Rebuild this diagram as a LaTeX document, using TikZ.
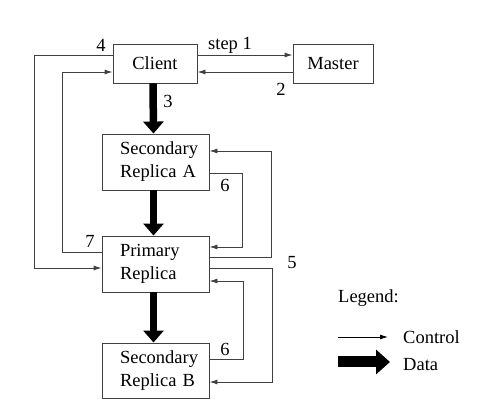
\documentclass[tikz,border=0pt]{standalone}
\usepackage{fontspec}
\setmainfont{Liberation Serif}
\usetikzlibrary{arrows.meta}
\begin{document}
\begin{tikzpicture}[x=1pt,y=-1pt,
  font=\fontsize{18.5}{23}\selectfont,
  box/.style={draw=black!75, line width=0.9pt, inner sep=0pt, align=center},
  rbox/.style={draw=black!75, line width=0.9pt, inner sep=0pt, text width=71pt, align=left, minimum width=107pt},
  ctrl/.style={draw=black!75, line width=0.9pt, -{Latex[length=8pt,width=5pt]}},
  data/.style={draw=black, line width=7.5pt, -{Triangle[length=12pt,width=20pt]}},
  lbl/.style={inner sep=0pt}]
\useasboundingbox (0,0) rectangle (477,411);
% boxes
\node[box, minimum width=84pt, minimum height=39pt] (client) at (155,63.5) {Client};
\node[box, minimum width=80pt, minimum height=39pt] (master) at (333,63.5) {Master};
\node[rbox, minimum height=56pt] (secA) at (155.5,162) {\hbox{Secondary}\\\hbox{Replica A}};
\node[rbox, minimum height=56pt] (prim) at (155.5,264) {Primary\\Replica};
\node[rbox, minimum height=55pt] (secB) at (155.5,370.5) {\hbox{Secondary}\\\hbox{Replica B}};
% client-master
\draw[ctrl] ([yshift=8.5pt]client.east) -- ([yshift=8.5pt]master.west);
\draw[ctrl] ([yshift=-8.5pt]master.west) -- ([yshift=-8.5pt]client.east);
% left side
\draw[ctrl] ([yshift=8.5pt]client.west) -- ++(-78,0) |- ([yshift=-4pt]prim.west);
\draw[ctrl] ([yshift=12pt]prim.west) -- ++(-39,0) |- ([yshift=-8.5pt]client.west);
% right side
\draw[ctrl] ([yshift=7pt]prim.east) -- ++(62,0) |- ([yshift=11pt]secA.east);
\draw[ctrl] ([yshift=-11pt]secA.east) -- ++(33,0) |- ([yshift=17pt]prim.east);
\draw[ctrl] ([yshift=-4pt]prim.east) -- ++(63,0) |- ([yshift=-11.5pt]secB.east);
\draw[ctrl] ([yshift=11.5pt]secB.east) -- ++(34,0) |- ([yshift=-17pt]prim.east);
% data
\draw[data] ([xshift=-2pt]client.south) -- ([xshift=-2pt]secA.north);
\draw[data] ([xshift=-2pt]secA.south) -- ([xshift=-2pt]prim.north);
\draw[data] ([xshift=-2pt]prim.south) -- ([xshift=-2pt]secB.north);
% labels
\node[lbl] (l1) at (230,45) {step 1};
\node[lbl] (l2) at (281,89) {2};
\node[lbl] (l3) at (168,101) {3};
\node[lbl] (l4) at (101,45) {4};
\node[lbl] (l5) at (292,263) {5};
\node[lbl] (l6a) at (225,185) {6};
\node[lbl] (l6b) at (225,349) {6};
\node[lbl] (l7) at (90,241) {7};
% legend
\node[lbl, anchor=west] (leg) at (338,298) {Legend:};
\coordinate (c1) at (338,337);
\coordinate (c2) at (388,337);
\coordinate (d1) at (338,362);
\coordinate (d2) at (390,362);
\draw[draw=black, line width=0.9pt, -{Latex[length=8pt,width=5pt]}] (c1) -- (c2);
\draw[draw=black, line width=11pt, -{Triangle[length=14pt,width=24pt]}] (d1) -- (d2);
\node[lbl, anchor=west] (lc) at (403,337) {Control};
\node[lbl, anchor=west] (ld) at (403,365) {Data};
\end{tikzpicture}
\end{document}
